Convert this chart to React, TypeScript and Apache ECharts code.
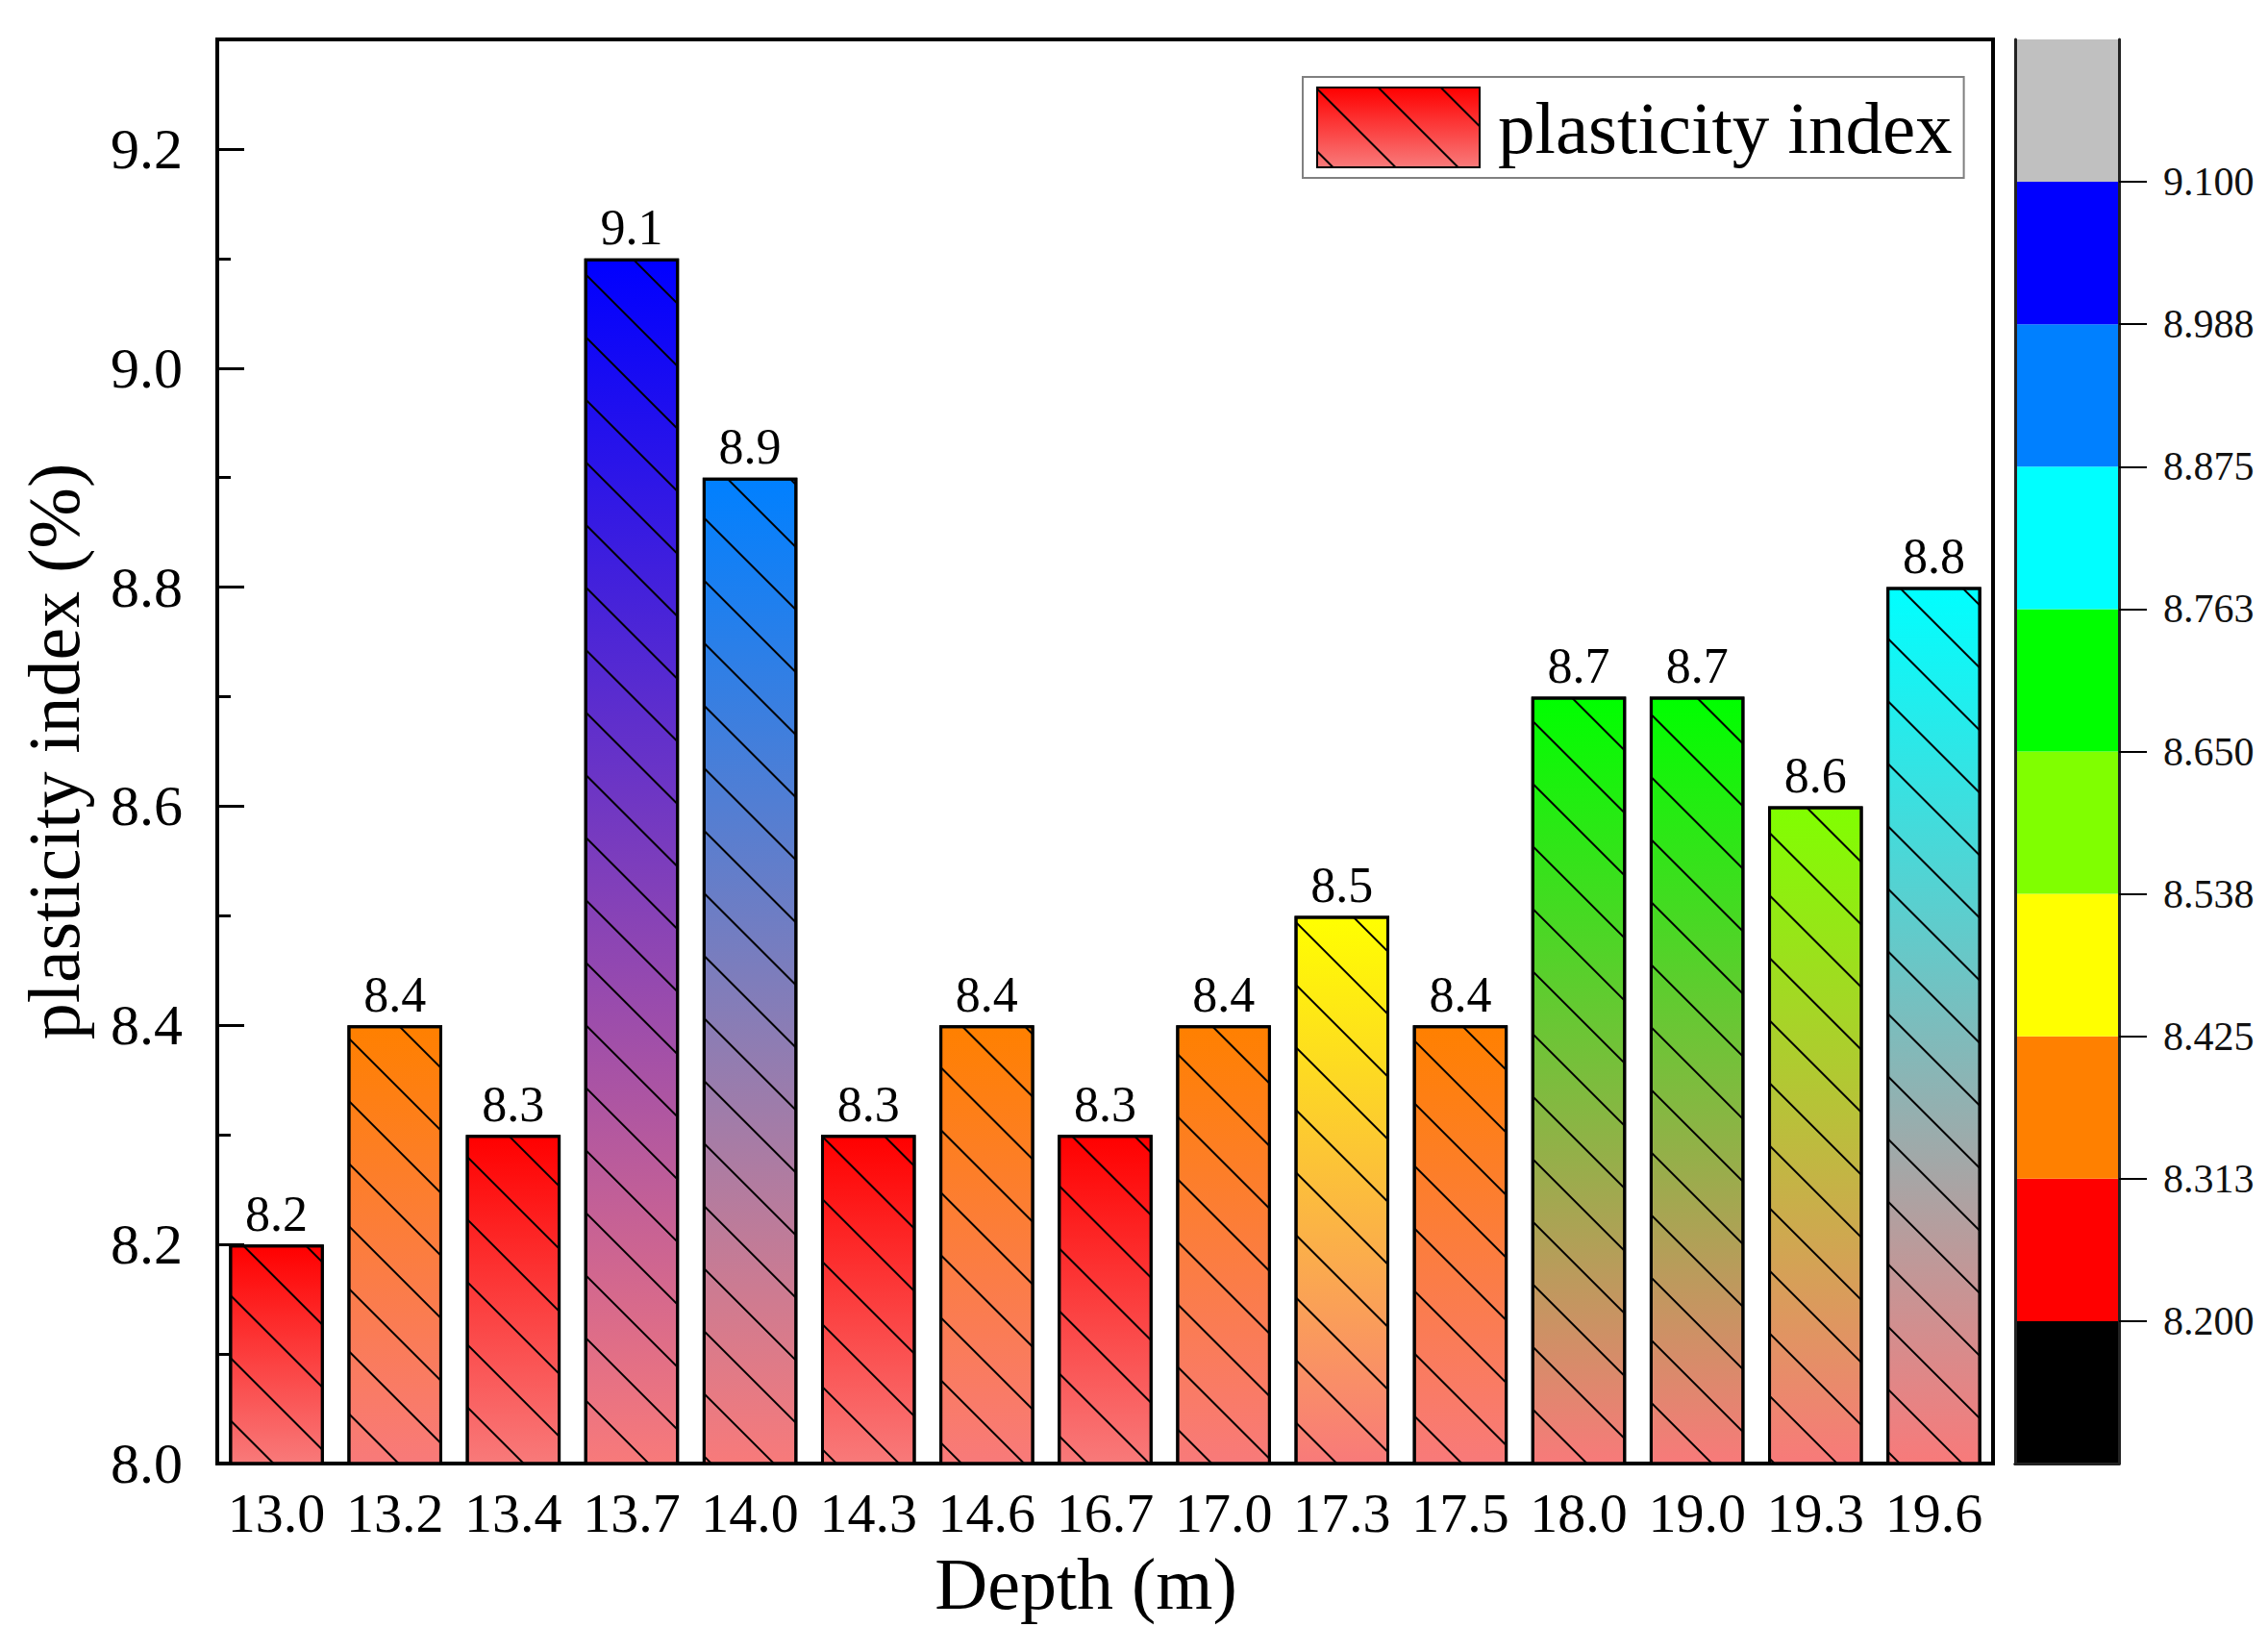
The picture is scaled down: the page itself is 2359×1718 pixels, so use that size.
import { useEffect, useRef } from "react";
import * as echarts from "echarts";

// depth categories (m) and plasticity index values (%)
const depths = ["13.0", "13.2", "13.4", "13.7", "14.0", "14.3", "14.6", "16.7", "17.0", "17.3", "17.5", "18.0", "19.0", "19.3", "19.6"];
const plasticity = [8.2, 8.4, 8.3, 9.1, 8.9, 8.3, 8.4, 8.3, 8.4, 8.5, 8.4, 8.7, 8.7, 8.6, 8.8];

// colour bar: boundaries, tick labels and colours (bottom to top)
const cbLow = 8.2;
const cbStep = 0.1125;
const cbTickLabels = ["8.200", "8.313", "8.425", "8.538", "8.650", "8.763", "8.875", "8.988", "9.100"];
const cbColors = ["#000000", "#FF0000", "#FF8000", "#FFFF00", "#80FF00", "#00FF00", "#00FFFF", "#0080FF", "#0000FF", "#C0C0C0"];
const cbSegments = [1, 1, 1, 1, 1, 1, 1, 1, 1, 1];

const bottomColor = "#F87A7A";
const serif = "'Liberation Serif', 'Times New Roman', serif";

const levelColor = (v: number) => {
  if (v < cbLow) return cbColors[0];
  const idx = Math.floor((v - cbLow) / cbStep + 1e-9) + 1;
  return cbColors[Math.min(idx, 8)];
};

const grad = (top: string) =>
  new echarts.graphic.LinearGradient(0, 0, 0, 1, [
    { offset: 0, color: top },
    { offset: 1, color: bottomColor },
  ]);

// "\\" hatch
const hatch = {
  symbol: "rect",
  symbolSize: 1,
  color: "#000",
  dashArrayX: [1, 0],
  dashArrayY: [2, 44],
  rotation: Math.PI / 4,
};

const App: React.FC = () => {
  const chartRef = useRef<HTMLDivElement>(null);

  useEffect(() => {
    if (!chartRef.current) return;
    const chart = echarts.init(chartRef.current, undefined, { renderer: "svg" });

    const option = {
      animation: false,
      backgroundColor: "#fff",
      textStyle: { fontFamily: serif, color: "#000" },
      legend: {
        data: ["plasticity index"],
        left: 1355,
        top: 80,
        icon: "rect",
        itemWidth: 169,
        itemHeight: 83,
        borderColor: "#808080",
        borderWidth: 2,
        padding: [10, 12, 10, 14],
        textStyle: { fontFamily: serif, fontSize: 77, color: "#000", padding: [0, 0, 0, 14] },
      },
      grid: [
        { left: 226, top: 41, width: 1847, height: 1481, show: true, borderColor: "#000", borderWidth: 4 },
        { left: 2096, top: 41, width: 108, height: 1481 },
      ],
      xAxis: [
        {
          type: "category",
          gridIndex: 0,
          data: depths,
          name: "Depth (m)",
          nameLocation: "middle",
          nameGap: 87,
          nameTextStyle: { fontFamily: serif, fontSize: 76, color: "#000", padding: [0, 40, 0, 0] },
          axisLine: { lineStyle: { color: "#000", width: 4 } },
          axisTick: { inside: true, length: 12, lineStyle: { color: "#000", width: 3 } },
          axisLabel: { interval: 0, fontSize: 58, margin: 22, color: "#000", fontFamily: serif },
        },
        {
          type: "category",
          gridIndex: 1,
          data: ["c"],
          position: "bottom",
          z: 10,
          axisLine: { lineStyle: { color: "#222", width: 3 } },
          axisTick: { show: false },
          axisLabel: { show: false },
        },
        {
          type: "category",
          gridIndex: 1,
          data: ["c"],
          position: "top",
          z: 10,
          axisLine: { lineStyle: { color: "#222", width: 3 } },
          axisTick: { show: false },
          axisLabel: { show: false },
        },
      ],
      yAxis: [
        {
          type: "value",
          gridIndex: 0,
          position: "left",
          min: 8.0,
          max: 9.3,
          interval: 0.2,
          name: "plasticity index (%)",
          nameLocation: "middle",
          nameGap: 132,
          nameTextStyle: { fontFamily: serif, fontSize: 76, color: "#000" },
          axisLine: { show: true, lineStyle: { color: "#000", width: 4 } },
          axisTick: { show: true, inside: true, length: 28, lineStyle: { color: "#000", width: 3 } },
          axisLabel: {
            fontSize: 60,
            margin: 36,
            color: "#000",
            fontFamily: serif,
            formatter: (v: number) => (v > 9.25 ? "" : v.toFixed(1)),
          },
          splitLine: { show: false },
        },
        {
          // minor ticks at every 0.1
          type: "value",
          gridIndex: 0,
          position: "left",
          min: 8.0,
          max: 9.3,
          interval: 0.1,
          axisLine: { show: false },
          axisTick: { show: true, inside: true, length: 14, lineStyle: { color: "#000", width: 3 } },
          axisLabel: { show: false },
          splitLine: { show: false },
        },
        {
          type: "value",
          gridIndex: 1,
          position: "right",
          min: 0,
          max: 10,
          interval: 1,
          z: 10,
          axisLine: { show: true, lineStyle: { color: "#222", width: 3 } },
          axisTick: {
            show: true,
            length: 29,
            customValues: [1, 2, 3, 4, 5, 6, 7, 8, 9],
            lineStyle: { color: "#000", width: 2 },
          },
          axisLabel: {
            customValues: [1, 2, 3, 4, 5, 6, 7, 8, 9],
            formatter: (v: number) => cbTickLabels[Math.round(v) - 1] ?? "",
            fontSize: 42,
            margin: 46,
            color: "#111",
            fontFamily: serif,
          },
          splitLine: { show: false },
        },
        {
          type: "value",
          gridIndex: 1,
          position: "left",
          min: 0,
          max: 10,
          interval: 1,
          z: 10,
          axisLine: { show: true, lineStyle: { color: "#222", width: 3 } },
          axisTick: { show: false },
          axisLabel: { show: false },
          splitLine: { show: false },
        },
      ],
      series: [
        {
          name: "plasticity index",
          type: "bar",
          xAxisIndex: 0,
          yAxisIndex: 0,
          barCategoryGap: "20%",
          data: plasticity.map((v) => ({ value: v, itemStyle: { color: grad(levelColor(v)) } })),
          itemStyle: { color: grad(cbColors[1]), borderColor: "#000", borderWidth: 3, decal: hatch },
          label: {
            show: true,
            position: "top",
            distance: 6,
            fontSize: 52,
            color: "#000",
            fontFamily: serif,
            formatter: (p: any) => Number(p.value).toFixed(1),
          },
        },
        ...cbColors.map((c, i) => ({
          name: "cb" + i,
          type: "bar",
          xAxisIndex: 1,
          yAxisIndex: 2,
          stack: "cb",
          barWidth: "100%",
          silent: true,
          data: [cbSegments[i]],
          itemStyle: { color: c },
        })),
      ],
    };

    chart.setOption(option as any);
    return () => {
      chart.dispose();
    };
  }, []);

  return <div ref={chartRef} style={{ position: "absolute", left: 0, top: 0, width: "2359px", height: "1718px" }} />;
};

export default App;
